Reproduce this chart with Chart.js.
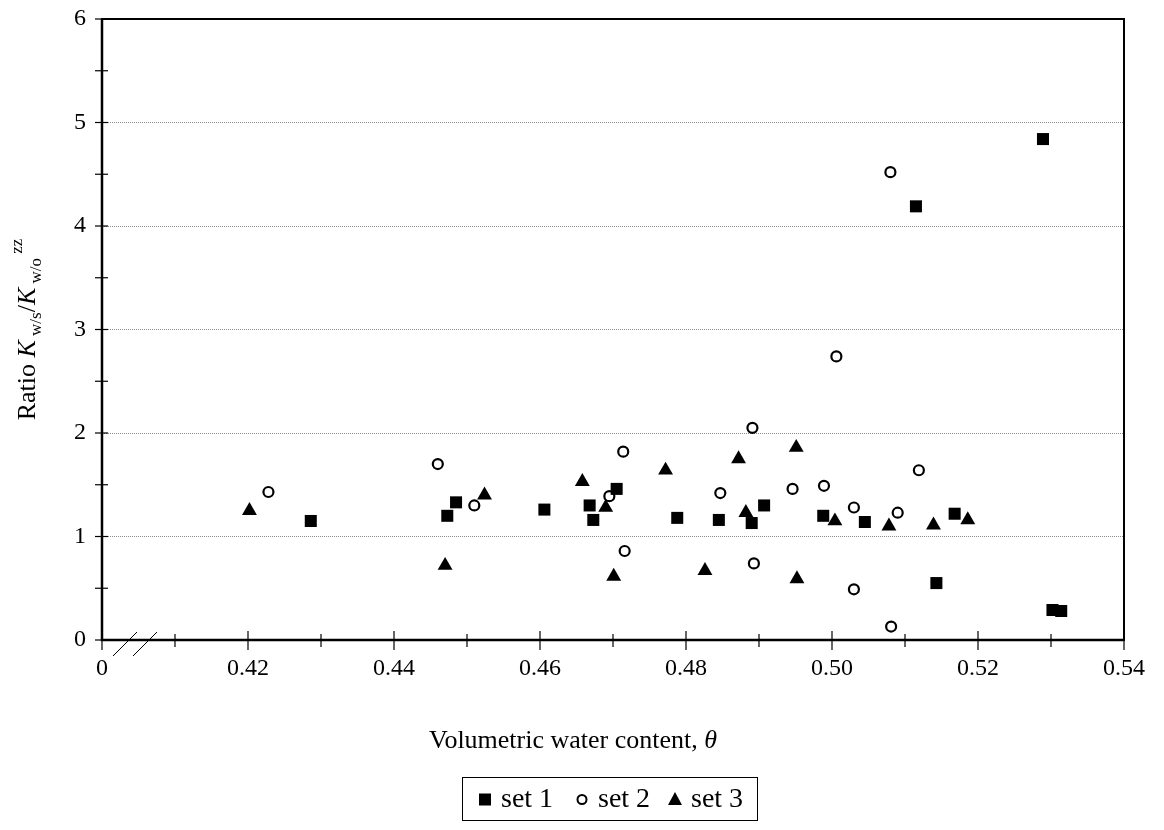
<!DOCTYPE html>
<html>
<head>
<meta charset="utf-8">
<script src="https://cdn.jsdelivr.net/npm/chart.js@4.4.0/dist/chart.umd.min.js"></script>
<style>
  html, body { margin: 0; padding: 0; background: #fff; }
  #wrap { width: 1164px; height: 830px; }
</style>
</head>
<body>
<div id="wrap"><canvas id="c" width="1164" height="830"></canvas></div>
<script>
// ---- data ----
const set1X = [0.4286, 0.4473, 0.4485, 0.4606, 0.4668, 0.4673, 0.4705, 0.4788, 0.4845, 0.4890, 0.4907, 0.4988, 0.5045, 0.5115, 0.5143, 0.5168, 0.5289, 0.5302, 0.5314];
const set1Y = [1.15, 1.20, 1.33, 1.26, 1.30, 1.16, 1.46, 1.18, 1.16, 1.13, 1.30, 1.20, 1.14, 4.19, 0.55, 1.22, 4.84, 0.29, 0.28];

const set2X = [0.4228, 0.4460, 0.4510, 0.4695, 0.4714, 0.4716, 0.4847, 0.4891, 0.4893, 0.4946, 0.4989, 0.5006, 0.5030, 0.5030, 0.5080, 0.5081, 0.5090, 0.5119];
const set2Y = [1.43, 1.70, 1.30, 1.39, 1.82, 0.86, 1.42, 2.05, 0.74, 1.46, 1.49, 2.74, 1.28, 0.49, 4.52, 0.13, 1.23, 1.64];

const set3X = [0.4202, 0.4470, 0.4524, 0.4658, 0.4690, 0.4701, 0.4772, 0.4826, 0.4872, 0.4882, 0.4951, 0.4952, 0.5004, 0.5078, 0.5139, 0.5186];
const set3Y = [1.25, 0.72, 1.40, 1.53, 1.28, 0.615, 1.64, 0.67, 1.75, 1.23, 1.86, 0.59, 1.15, 1.10, 1.11, 1.16];

const seriesNames = ['set 1', 'set 2', 'set 3'];
const xMin = 0.40, xMax = 0.54, xStep = 0.01;
const yMin = 0, yMax = 6, yStep = 0.5;
const xAxisTitle = 'Volumetric water content, ';
const xAxisSymbol = 'θ';

const pts = (xs, ys) => xs.map((x, i) => ({ x: x, y: ys[i] }));

const FONT = "'Liberation Serif', 'Times New Roman', serif";

// ---- custom drawing: frame, crossing ticks, axis break, titles, legend ----
const decor = {
  id: 'decor',
  afterDraw(chart) {
    const ctx = chart.ctx;
    const a = chart.chartArea;
    const xs = chart.scales.x, ys = chart.scales.y;
    ctx.save();
    ctx.strokeStyle = '#000';
    // frame
    ctx.lineWidth = 2;
    ctx.strokeRect(a.left, a.top, a.right - a.left, a.bottom - a.top);
    ctx.lineWidth = 2.5;
    ctx.beginPath();
    ctx.moveTo(a.left, a.top); ctx.lineTo(a.left, a.bottom); ctx.lineTo(a.right, a.bottom);
    ctx.stroke();
    // x ticks (crossing the axis)
    ctx.lineWidth = 1.2;
    xs.ticks.forEach(t => {
      const k = Math.round(t.value * 100);
      const px = xs.getPixelForValue(t.value);
      const major = (k % 2 === 0);
      ctx.beginPath();
      ctx.moveTo(px, a.bottom - (major ? 9 : 6));
      ctx.lineTo(px, a.bottom + (major ? 10 : 7));
      ctx.stroke();
    });
    // y ticks (crossing the axis)
    ys.ticks.forEach(t => {
      const py = ys.getPixelForValue(t.value);
      ctx.beginPath();
      ctx.moveTo(a.left - 7, py);
      ctx.lineTo(a.left + 6, py);
      ctx.stroke();
    });
    // axis break marks
    ctx.lineWidth = 1;
    ctx.beginPath();
    ctx.moveTo(a.left + 11, a.bottom + 16); ctx.lineTo(a.left + 35, a.bottom - 8);
    ctx.moveTo(a.left + 31, a.bottom + 16); ctx.lineTo(a.left + 55, a.bottom - 8);
    ctx.stroke();

    // x axis title
    ctx.fillStyle = '#000';
    ctx.textBaseline = 'alphabetic';
    ctx.font = '26px ' + FONT;
    const w1 = ctx.measureText(xAxisTitle).width;
    ctx.font = 'italic 26px ' + FONT;
    const w2 = ctx.measureText(xAxisSymbol).width;
    let sx = 573 - (w1 + w2) / 2;
    ctx.font = '26px ' + FONT;
    ctx.textAlign = 'left';
    ctx.fillText(xAxisTitle, sx, 748);
    ctx.font = 'italic 26px ' + FONT;
    ctx.fillText(xAxisSymbol, sx + w1, 748);

    // y axis title (rotated, with sub/superscripts)
    const parts = [
      { t: 'Ratio ', f: '26px ' + FONT },
      { t: 'K', f: 'italic 26px ' + FONT },
      { t: ' w/s', f: '17px ' + FONT, dy: 6 },
      { t: '/', f: '26px ' + FONT },
      { t: 'K', f: 'italic 26px ' + FONT },
      { t: ' w/o', f: '17px ' + FONT, dy: 6 },
      { t: ' zz', f: '17px ' + FONT, dy: -13 }
    ];
    let total = 0;
    parts.forEach(p => { ctx.font = p.f; p.w = ctx.measureText(p.t).width; total += p.w; });
    ctx.save();
    ctx.translate(35, (a.top + a.bottom) / 2);
    ctx.rotate(-Math.PI / 2);
    let x = -total / 2;
    parts.forEach(p => { ctx.font = p.f; ctx.fillText(p.t, x, p.dy || 0); x += p.w; });
    ctx.restore();

    // legend with border
    const box = { l: 462, t: 777, r: 757, b: 820 };
    ctx.lineWidth = 1;
    ctx.strokeRect(box.l + 0.5, box.t + 0.5, box.r - box.l, box.b - box.t);
    const cy = (box.t + box.b) / 2 + 1;
    ctx.font = '28px ' + FONT;
    ctx.textBaseline = 'middle';
    const markerX = [485, 582, 675];
    chart.data.datasets.forEach((ds, i) => {
      const mx = markerX[i];
      ctx.fillStyle = '#000';
      if (ds.pointStyle === 'rect') {
        ctx.fillRect(mx - 6, cy - 6, 12, 12);
      } else if (ds.pointStyle === 'circle') {
        ctx.beginPath(); ctx.arc(mx, cy, 4.5, 0, Math.PI * 2);
        ctx.fillStyle = '#fff'; ctx.fill();
        ctx.lineWidth = 2; ctx.stroke();
      } else {
        ctx.beginPath();
        ctx.moveTo(mx, cy - 7.5); ctx.lineTo(mx + 7, cy + 5.5); ctx.lineTo(mx - 7, cy + 5.5);
        ctx.closePath(); ctx.fill();
      }
      ctx.fillStyle = '#000';
      ctx.fillText(ds.label, mx + 16, cy);
    });
    ctx.restore();
  }
};

new Chart(document.getElementById('c'), {
  type: 'scatter',
  data: {
    datasets: [
      { label: seriesNames[0], data: pts(set1X, set1Y), pointStyle: 'rect', pointRadius: 8.5, pointHoverRadius: 8.5,
        backgroundColor: '#000', borderColor: '#000', borderWidth: 0 },
      { label: seriesNames[1], data: pts(set2X, set2Y), pointStyle: 'circle', pointRadius: 5, pointHoverRadius: 5,
        backgroundColor: '#fff', borderColor: '#000', borderWidth: 2.2 },
      { label: seriesNames[2], data: pts(set3X, set3Y), pointStyle: 'triangle', pointRadius: 8.6, pointHoverRadius: 8.6,
        backgroundColor: '#000', borderColor: '#000', borderWidth: 0 }
    ]
  },
  options: {
    responsive: false,
    animation: false,
    devicePixelRatio: 1,
    layout: { padding: { top: 19, right: 40, left: 0, bottom: 0 } },
    plugins: { legend: { display: false }, tooltip: { enabled: false } },
    scales: {
      x: {
        type: 'linear', min: xMin, max: xMax,
        afterFit: s => { s.height = 190; s.paddingLeft = 0; s.paddingRight = 0; },
        border: { display: false },
        grid: { display: true, drawOnChartArea: false, drawTicks: false },
        ticks: {
          stepSize: xStep, padding: 14, color: '#000', maxRotation: 0, autoSkip: false,
          font: { family: FONT, size: 24 },
          callback: v => {
            const k = Math.round(v * 100);
            if (k % 2 !== 0) return '';
            if (k === 40) return '0';
            return (k / 100).toFixed(2);
          }
        }
      },
      y: {
        type: 'linear', min: yMin, max: yMax,
        afterFit: s => { s.width = 102; s.paddingTop = 0; s.paddingBottom = 0; },
        border: { display: false, dash: [1, 1] },
        grid: {
          drawTicks: false,
          lineWidth: 1,
          color: c => {
            const v = c.tick.value;
            return (Number.isInteger(v) && v > 0 && v < 6) ? '#8a8a8a' : 'rgba(0,0,0,0)';
          }
        },
        ticks: {
          stepSize: yStep, padding: 16, color: '#000', autoSkip: false,
          font: { family: FONT, size: 24 },
          callback: v => Number.isInteger(v) ? String(v) : ''
        }
      }
    }
  },
  plugins: [decor]
});
</script>
</body>
</html>
